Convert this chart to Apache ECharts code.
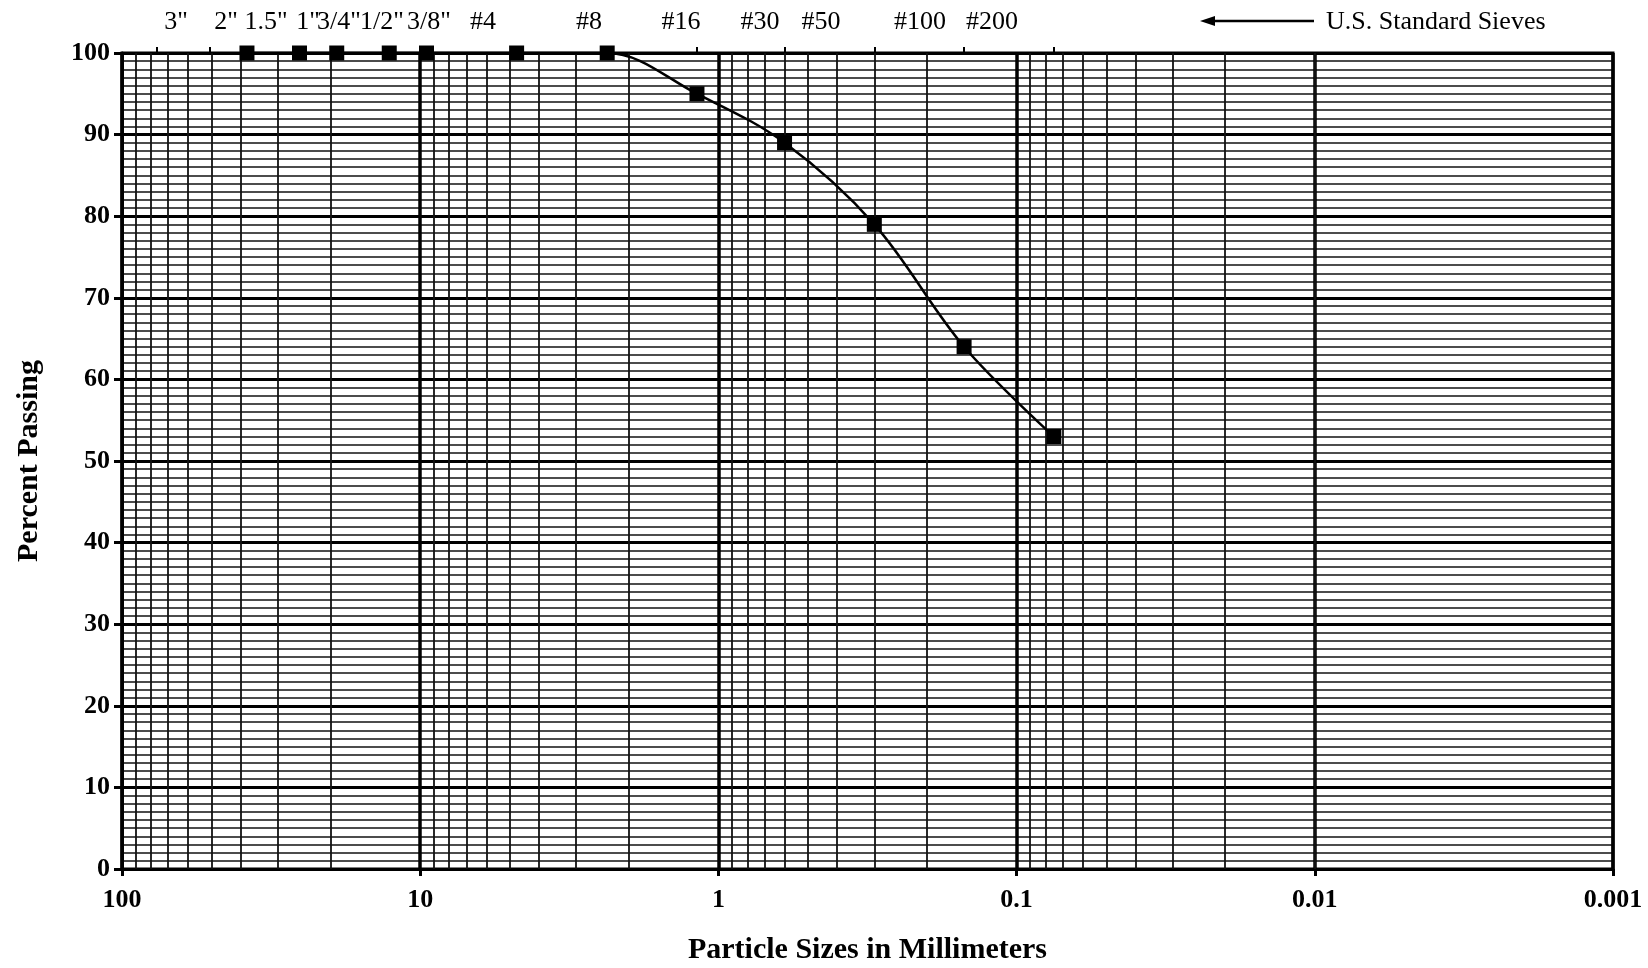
<!DOCTYPE html>
<html>
<head>
<meta charset="utf-8">
<title>Grain Size Distribution</title>
<script src="https://cdn.jsdelivr.net/npm/echarts@6/dist/echarts.min.js"></script>
<style>
  html, body { margin: 0; padding: 0; background: #fff; }
  #chart { width: 1648px; height: 968px; }
</style>
</head>
<body>
<div id="chart"></div>
<script>
// Sieve analysis results: opening size (mm) and percent passing
const sieveOpeningsMm = [38.1, 25.4, 19.05, 12.7, 9.525, 4.75, 2.36, 1.18, 0.6, 0.3, 0.15, 0.075];
const percentPassing = [100, 100, 100, 100, 100, 100, 100, 95, 89, 79, 64, 53];

// U.S. standard sieve designations and their openings (mm), shown along the top edge
const standardSieveNames = ['3"', '2"', '1.5"', '1"', '3/4"', '1/2"', '3/8"', '#4', '#8', '#16', '#30', '#50', '#100', '#200'];
const standardSieveMm = [76.2, 50.8, 38.1, 25.4, 19.05, 12.7, 9.525, 4.75, 2.36, 1.18, 0.6, 0.3, 0.15, 0.075];

// Axis ranges
const xDecades = [100, 10, 1, 0.1, 0.01, 0.001];
const yTicks = [0, 10, 20, 30, 40, 50, 60, 70, 80, 90, 100];

// Horizontal centre (px) of each sieve designation caption above the plot
const sieveCaptionX = [176, 226, 266, 308, 339, 382, 429, 483, 589, 681, 760, 821, 920, 992];

const FONT = '"Liberation Serif", "Times New Roman", serif';

// Minor log-grid values 2..9 within each decade
const minorGrid = [];
for (let d = 0.001; d < 50; d *= 10) {
  for (let k = 2; k <= 9; k++) minorGrid.push(Number((d * k).toPrecision(6)));
}

function fmt(v) {
  return String(Number(Number(v).toPrecision(6)));
}

const chart = echarts.init(document.getElementById('chart'), null, { renderer: 'canvas' });

const captions = standardSieveNames.map((name, i) => ({
  type: 'text',
  x: sieveCaptionX[i],
  y: 22,
  style: {
    text: name,
    font: '26px ' + FONT,
    fill: '#000',
    textAlign: 'center',
    textVerticalAlign: 'middle'
  }
}));

chart.setOption({
  animation: false,
  backgroundColor: '#fff',
  grid: {
    left: 122, right: 35, top: 53, bottom: 99,
    outerBoundsMode: 'none',
    containLabel: false,
    show: true, borderColor: '#000', borderWidth: 3, backgroundColor: 'transparent'
  },
  xAxis: [
    {
      type: 'log',
      logBase: 10,
      min: xDecades[xDecades.length - 1],
      max: xDecades[0],
      inverse: true,
      position: 'bottom',
      name: 'Particle Sizes in Millimeters',
      nameLocation: 'middle',
      nameGap: 66,
      nameTextStyle: { fontFamily: FONT, fontWeight: 'bold', fontSize: 30, color: '#000', verticalAlign: 'top' },
      axisLine: { show: true, lineStyle: { color: '#000', width: 3 } },
      axisTick: { show: true, length: 7, lineStyle: { color: '#000', width: 3 } },
      axisLabel: {
        fontFamily: FONT, fontWeight: 'bold', fontSize: 26, color: '#000', margin: 18,
        formatter: fmt
      },
      splitLine: { show: true, lineStyle: { color: '#000', width: 3.5 } },
      minorTick: { show: false },
      minorSplitLine: { show: false }
    },
    {
      type: 'log',
      logBase: 10,
      min: xDecades[xDecades.length - 1],
      max: xDecades[0],
      inverse: true,
      position: 'top',
      axisLine: { show: false },
      axisTick: { show: true, customValues: standardSieveMm, length: 6, inside: false, lineStyle: { color: '#000', width: 2 } },
      axisLabel: { show: false },
      splitLine: { show: false }
    }
  ],
  yAxis: {
    type: 'value',
    min: yTicks[0],
    max: yTicks[yTicks.length - 1],
    interval: 10,
    name: 'Percent Passing',
    nameLocation: 'middle',
    nameGap: 78,
    nameRotate: 90,
    nameTextStyle: { fontFamily: FONT, fontWeight: 'bold', fontSize: 30, color: '#000' },
    axisLine: { show: true, lineStyle: { color: '#000', width: 3 } },
    axisTick: { show: true, length: 8, lineStyle: { color: '#000', width: 3 } },
    axisLabel: { fontFamily: FONT, fontWeight: 'bold', fontSize: 26, color: '#000', margin: 12 },
    splitLine: { show: true, lineStyle: { color: '#000', width: 3 } },
    minorTick: { show: false, splitNumber: 10 },
    minorSplitLine: { show: true, lineStyle: { color: '#111', width: 1.6 } }
  },
  graphic: captions.concat([
    {
      type: 'line',
      shape: { x1: 1212, y1: 21, x2: 1314, y2: 21 },
      style: { stroke: '#000', lineWidth: 2.5 }
    },
    {
      type: 'polygon',
      shape: { points: [[1200, 21], [1215, 16], [1215, 26]] },
      style: { fill: '#000' }
    },
    {
      type: 'text',
      x: 1326,
      y: 22,
      style: { text: 'U.S. Standard Sieves', font: '26px ' + FONT, fill: '#000', textAlign: 'left', textVerticalAlign: 'middle' }
    }
  ]),
  series: [
    {
      name: 'log grid',
      type: 'line',
      data: [],
      silent: true,
      z: 1,
      markLine: {
        silent: true,
        symbol: ['none', 'none'],
        label: { show: false },
        emphasis: { disabled: true },
        lineStyle: { color: '#111', width: 1.8, type: 'solid' },
        data: minorGrid.map(v => ({ xAxis: v }))
      }
    },
    {
      name: 'Percent Passing',
      type: 'line',
      data: sieveOpeningsMm.map((mm, i) => [mm, percentPassing[i]]),
      smooth: 0.35,
      symbol: 'rect',
      symbolSize: 15,
      z: 5,
      clip: false,
      itemStyle: { color: '#000' },
      lineStyle: { color: '#000', width: 2.5 }
    }
  ]
});
</script>
</body>
</html>
